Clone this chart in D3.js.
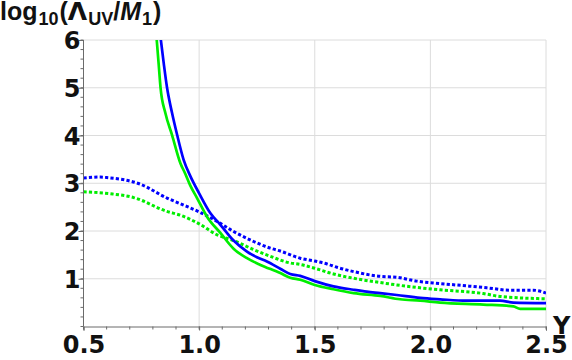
<!DOCTYPE html>
<html><head><meta charset="utf-8">
<script src="https://cdn.jsdelivr.net/npm/d3@7"></script>
<style>body{margin:0;background:#fff;} svg{display:block;font-family:"Liberation Sans",Arial,sans-serif;}</style>
</head><body>
<svg id="c" width="572" height="360"></svg>
<script>
// ---- data ----
const xTicks = [0.5, 1.0, 1.5, 2.0, 2.5];
const yTicks = [1, 2, 3, 4, 5, 6];
const blueSolid = [[0.832,6.1],[0.847,5.51],[0.861,5.01],[0.883,4.47],[0.905,4.01],[0.933,3.49],[0.962,3.15],[1.0,2.79],[1.049,2.37],[1.092,2.13],[1.149,1.80],[1.207,1.57],[1.25,1.45],[1.293,1.36],[1.351,1.21],[1.394,1.10],[1.437,1.06],[1.5,0.95],[1.581,0.84],[1.668,0.77],[1.725,0.73],[1.783,0.70],[1.855,0.66],[1.956,0.60],[2.042,0.57],[2.157,0.54],[2.301,0.54],[2.359,0.50],[2.5,0.49]];
const greenSolid = [[0.815,6.1],[0.825,5.5],[0.833,5.01],[0.854,4.47],[0.883,4.01],[0.919,3.42],[0.94,3.2],[0.962,2.95],[0.991,2.69],[1.034,2.30],[1.092,1.96],[1.149,1.63],[1.207,1.43],[1.265,1.29],[1.351,1.12],[1.394,1.02],[1.437,0.98],[1.5,0.87],[1.581,0.78],[1.668,0.70],[1.783,0.64],[1.869,0.57],[1.956,0.54],[2.042,0.50],[2.229,0.46],[2.359,0.42],[2.388,0.37],[2.5,0.37]];
const blueDotted = [[0.5,3.11],[0.573,3.13],[0.6,3.12],[0.746,2.98],[0.861,2.69],[0.919,2.57],[1.0,2.40],[1.078,2.20],[1.149,1.99],[1.236,1.78],[1.308,1.64],[1.351,1.58],[1.437,1.43],[1.5,1.37],[1.553,1.31],[1.596,1.24],[1.668,1.15],[1.783,1.05],[1.855,1.03],[1.941,0.95],[2.042,0.90],[2.157,0.85],[2.244,0.81],[2.344,0.76],[2.445,0.76],[2.5,0.70]];
const greenDotted = [[0.5,2.82],[0.617,2.78],[0.717,2.70],[0.861,2.41],[0.919,2.33],[1.0,2.15],[1.078,1.92],[1.149,1.80],[1.236,1.61],[1.308,1.47],[1.394,1.33],[1.437,1.30],[1.5,1.22],[1.581,1.10],[1.668,1.01],[1.783,0.92],[1.855,0.87],[1.956,0.81],[2.042,0.77],[2.229,0.69],[2.301,0.63],[2.5,0.58]];

const svg = d3.select("#c");
const x = d3.scaleLinear().domain([0.5, 2.5]).range([83.5, 546]);
const y = d3.scaleLinear().domain([0, 6]).range([326.5, 40]);
const axisCol = "#6b6b6b", gridCol = "#dcdcdc";
const tickFont = "'DejaVu Sans', sans-serif";

// grid
const g = svg.append("g");
g.selectAll(".gx").data(xTicks.slice(1)).join("line")
  .attr("x1", d => x(d)).attr("x2", d => x(d)).attr("y1", y(0)).attr("y2", y(6))
  .attr("stroke", gridCol).attr("stroke-width", 1);
g.selectAll(".gy").data(yTicks).join("line")
  .attr("x1", x(0.5)).attr("x2", x(2.5)).attr("y1", d => y(d)).attr("y2", d => y(d))
  .attr("stroke", gridCol).attr("stroke-width", 1);

// curves
svg.append("clipPath").attr("id", "clip").append("rect")
  .attr("x", x(0.5)).attr("y", y(6)).attr("width", x(2.5) - x(0.5)).attr("height", y(0) - y(6));
const line = d3.line().x(d => x(d[0])).y(d => y(d[1])).curve(d3.curveMonotoneX);
const lines = svg.append("g").attr("clip-path", "url(#clip)");
[[blueDotted, "#0000ff", true], [greenDotted, "#00ee00", true], [greenSolid, "#00ee00", false], [blueSolid, "#0000ff", false]]
  .forEach(([data, col, dot]) => {
    lines.append("path").attr("d", line(data)).attr("fill", "none").attr("stroke", col)
      .attr("stroke-width", dot ? 3 : 2.7).attr("stroke-dasharray", dot ? "3.2,2.2" : null);
  });

// axes
const xAxis = d3.axisBottom(x).tickValues(xTicks).tickFormat(d3.format(".1f")).tickSize(4);
const ax = svg.append("g").attr("transform", `translate(0,${y(0)})`).call(xAxis);
ax.select(".domain").attr("stroke", axisCol);
ax.selectAll(".tick line").attr("stroke", axisCol);
ax.selectAll(".tick text").attr("font-family", tickFont).attr("font-size", 24).attr("font-weight", "bold").attr("fill", "#111").attr("dy", "0.82em");
const xMinor = d3.range(0.5, 2.5001, 0.1).map(v => +v.toFixed(2));
ax.selectAll(".mx").data(xMinor).join("line").attr("x1", d => x(d)).attr("x2", d => x(d)).attr("y1", 0).attr("y2", 3).attr("stroke", axisCol);

const yAxis = d3.axisLeft(y).tickValues(yTicks).tickFormat(d3.format("d")).tickSize(5);
const ay = svg.append("g").attr("transform", `translate(${x(0.5)},0)`).call(yAxis);
ay.select(".domain").attr("stroke", axisCol).attr("d", `M0,${y(6)}V${y(0)}`);
ay.selectAll(".tick line").attr("stroke", axisCol);
ay.selectAll(".tick text").attr("font-family", tickFont).attr("font-size", 24).attr("font-weight", "bold").attr("fill", "#111").attr("x", -3).attr("dy", "0.36em");
const yMinor = d3.range(0, 6.0001, 0.2).map(v => +v.toFixed(2));
ay.selectAll(".my").data(yMinor).join("line").attr("x1", -3).attr("x2", 0).attr("y1", d => y(d)).attr("y2", d => y(d)).attr("stroke", axisCol);

// labels
const t = svg.append("text").attr("x", 0).attr("y", 20).attr("font-size", 25).attr("font-weight", "bold").attr("fill", "#111");
t.append("tspan").text("log");
t.append("tspan").attr("font-size", 18).attr("dy", 5).attr("dx", 1).text("10");
t.append("tspan").attr("dy", -5).attr("dx", 1).text("(");
t.append("tspan").attr("font-family", tickFont).text("Λ");
t.append("tspan").attr("font-size", 18).attr("dy", 5).attr("dx", 1).text("UV");
t.append("tspan").attr("dy", -5).text("/");
t.append("tspan").attr("font-style", "italic").text("M");
t.append("tspan").attr("font-size", 18).attr("dy", 5).attr("dx", 1).text("1");
t.append("tspan").attr("dy", -5).attr("dx", 1).text(")");

svg.append("text").attr("x", 553).attr("y", 334).attr("font-family", tickFont).attr("font-size", 24).attr("font-weight", "bold").attr("fill", "#111").text("Y");
</script>
</body></html>
